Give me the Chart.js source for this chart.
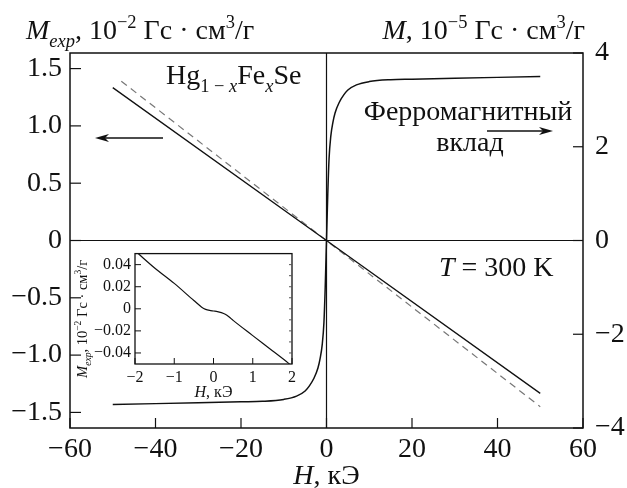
<!DOCTYPE html>
<html>
<head>
<meta charset="utf-8">
<script src="https://cdn.jsdelivr.net/npm/chart.js@4.4.1/dist/chart.umd.min.js"></script>
<style>
  body { margin: 0; background: #fff; }
  #wrap { position: relative; width: 627px; height: 488px; }
  #main { position: absolute; left: 0; top: 0; }
  #inset { position: absolute; left: 74px; top: 240px; }
</style>
</head>
<body>
<div id="wrap">
  <canvas id="main" width="627" height="488"></canvas>
  <canvas id="inset" width="226" height="165"></canvas>
</div>
<script>
// main panel: field H (kOe)
const xTicks = [-60, -40, -20, 0, 20, 40, 60];
const leftTicks = [-1.5, -1.0, -0.5, 0, 0.5, 1.0, 1.5];
const rightTicks = [-4, -2, 0, 2, 4];

// measured M_exp (left axis, 10^-2)
const mExpH = [-50, 0, 50];
const mExpV = [1.334, 0, -1.334];
// dashed diamagnetic line (left axis)
const diaH = [-48, 50];
const diaV = [1.39, -1.45];
// ferromagnetic contribution (right axis, 10^-5)
const ferroH = [-50, -40, -30, -20, -15, -10, -7, -5, -4, -3, -2, -1.5, -1, -0.6, -0.3, 0,
                0.3, 0.6, 1, 1.5, 2, 3, 4, 5, 7, 10, 15, 20, 30, 40, 50];
const ferroM = [-3.50, -3.48, -3.46, -3.44, -3.43, -3.39, -3.32, -3.21, -3.10, -2.95, -2.72, -2.52, -2.22, -1.75, -1.0, 0,
                1.0, 1.75, 2.22, 2.52, 2.72, 2.95, 3.10, 3.21, 3.32, 3.39, 3.43, 3.44, 3.46, 3.48, 3.50];

// inset: low field M_exp
const insetXTicks = [-2, -1, 0, 1, 2];
const insetYTicks = [-0.04, -0.02, 0, 0.02, 0.04];
const insetH = [-1.95, -1.5, -1.0, -0.5, -0.3, -0.2, -0.1, 0, 0.1, 0.2, 0.3, 0.4, 0.5, 1.0, 1.5, 1.9, 2.0];
const insetM = [0.051, 0.037, 0.023, 0.0075, 0.0015, -0.0005, -0.0015, -0.002, -0.0025, -0.0035, -0.005, -0.0075, -0.0105, -0.0243, -0.038, -0.049, -0.052];

const FONT = "'Liberation Serif', 'Times New Roman', serif";
const INK = '#111';
const fmt = (v, d) => v === 0 ? '0' : (v < 0 ? '\u2212' : '') + Math.abs(v).toFixed(d);
const pts = (xs, ys) => xs.map((x, i) => ({ x, y: ys[i] }));

function line(ctx, x1, y1, x2, y2) {
  ctx.beginPath(); ctx.moveTo(x1, y1); ctx.lineTo(x2, y2); ctx.stroke();
}

// text with italic / sub / superscript pieces
function rich(ctx, parts, x, y, align, size) {
  const items = parts.map(([t, st = '']) => {
    const small = st.includes('sub') || st.includes('sup');
    const sz = small ? size * 0.66 : size;
    const font = (st.startsWith('i') ? 'italic ' : '') + sz + 'px ' + FONT;
    ctx.font = font;
    const dy = st.includes('sub') ? size * 0.28 : st.includes('sup') ? -size * 0.4 : 0;
    return { t, font, dy, w: ctx.measureText(t).width };
  });
  const total = items.reduce((s, it) => s + it.w, 0);
  let cx = align === 'right' ? x - total : align === 'center' ? x - total / 2 : x;
  ctx.textAlign = 'left';
  ctx.textBaseline = 'alphabetic';
  items.forEach(it => { ctx.font = it.font; ctx.fillText(it.t, cx, y + it.dy); cx += it.w; });
}

function arrow(ctx, x1, y, x2) {
  const dir = Math.sign(x2 - x1);
  line(ctx, x1, y, x2 - dir * 8, y);
  ctx.beginPath();
  ctx.moveTo(x2, y);
  ctx.lineTo(x2 - dir * 14, y - 4);
  ctx.lineTo(x2 - dir * 10, y);
  ctx.lineTo(x2 - dir * 14, y + 4);
  ctx.closePath(); ctx.fill();
}

const mainFrame = {
  id: 'mainFrame',
  afterDatasetsDraw(chart) {
    const { ctx, chartArea: a, scales: { x, yL, yR } } = chart;
    ctx.save();
    ctx.strokeStyle = INK; ctx.fillStyle = INK;
    ctx.lineWidth = 1.5;
    ctx.strokeRect(a.left, a.top, a.width, a.height);
    ctx.lineWidth = 1.2;
    const x0 = x.getPixelForValue(0), y0 = yL.getPixelForValue(0);
    line(ctx, x0, a.top, x0, a.bottom);
    line(ctx, a.left, y0, a.right, y0);
    xTicks.forEach(v => { const p = x.getPixelForValue(v); line(ctx, p, a.bottom, p, a.bottom - 10); });
    leftTicks.forEach(v => { const p = yL.getPixelForValue(v); line(ctx, a.left, p, a.left + 11, p); });
    rightTicks.forEach(v => { const p = yR.getPixelForValue(v); line(ctx, a.right, p, a.right - 10, p); });

    // axis titles
    rich(ctx, [['M', 'i'], ['exp', 'isub'], [', 10'], ['\u22122', 'sup'], [' Гс · см'], ['3', 'sup'], ['/г']], 26, 39, 'left', 28);
    rich(ctx, [['M', 'i'], [', 10'], ['\u22125', 'sup'], [' Гс · см'], ['3', 'sup'], ['/г']], 585, 39, 'right', 28);
    rich(ctx, [['H', 'i'], [', кЭ']], x0, 484, 'center', 28);

    // labels inside the plot
    rich(ctx, [['Hg'], ['1 \u2212 ', 'sub'], ['x', 'isub'], ['Fe'], ['x', 'isub'], ['Se']], 166, 84, 'left', 28);
    rich(ctx, [['Ферромагнитный']], 468, 120, 'center', 28);
    rich(ctx, [['вклад']], 470, 151, 'center', 28);
    rich(ctx, [['T', 'i'], [' = 300 K']], 439, 276, 'left', 28);
    ctx.lineWidth = 1.5;
    arrow(ctx, 163, 138, 95);
    arrow(ctx, 487, 131, 553);
    ctx.restore();
  }
};

const axisFont = { family: FONT, size: 28 };

new Chart(document.getElementById('main'), {
  type: 'scatter',
  data: {
    datasets: [
      { data: pts(mExpH, mExpV), yAxisID: 'yL', showLine: true, borderColor: INK, borderWidth: 1.3, pointRadius: 0 },
      { data: pts(diaH, diaV), yAxisID: 'yL', showLine: true, borderColor: '#777', borderWidth: 1.2, borderDash: [7, 5], pointRadius: 0 },
      { data: pts(ferroH, ferroM), yAxisID: 'yR', showLine: true, borderColor: INK, borderWidth: 1.5, pointRadius: 0,
        cubicInterpolationMode: 'monotone' }
    ]
  },
  options: {
    responsive: false,
    animation: false,
    layout: { padding: { top: 53 } },
    plugins: { legend: { display: false }, tooltip: { enabled: false } },
    scales: {
      x: {
        type: 'linear', min: -60, max: 60,
        afterBuildTicks: s => { s.ticks = xTicks.map(v => ({ value: v })); },
        afterFit: s => { s.height = 60; },
        ticks: { callback: v => fmt(v, 0), font: axisFont, color: INK, padding: 5, maxRotation: 0, autoSkip: false },
        grid: { display: false, drawTicks: false }, border: { display: false }
      },
      yL: {
        type: 'linear', position: 'left', min: -1.636, max: 1.636,
        afterBuildTicks: s => { s.ticks = leftTicks.map(v => ({ value: v })); },
        afterFit: s => { s.width = 70; },
        ticks: { callback: v => fmt(v, 1), font: axisFont, color: INK, padding: 8, autoSkip: false },
        grid: { display: false, drawTicks: false }, border: { display: false }
      },
      yR: {
        type: 'linear', position: 'right', min: -4, max: 4,
        afterBuildTicks: s => { s.ticks = rightTicks.map(v => ({ value: v })); },
        afterFit: s => { s.width = 44; },
        ticks: { callback: v => fmt(v, 0), font: axisFont, color: INK, padding: 12, autoSkip: false },
        grid: { display: false, drawTicks: false }, border: { display: false }
      }
    }
  },
  plugins: [mainFrame]
});

const insetFrame = {
  id: 'insetFrame',
  beforeDatasetsDraw(chart) {
    const { ctx, chartArea: a } = chart;
    ctx.save(); ctx.fillStyle = '#fff'; ctx.fillRect(a.left, a.top, a.width, a.height); ctx.restore();
  },
  afterDatasetsDraw(chart) {
    const { ctx, chartArea: a, scales: { x, y } } = chart;
    ctx.save();
    ctx.strokeStyle = INK; ctx.fillStyle = INK;
    ctx.lineWidth = 1.3;
    ctx.strokeRect(a.left, a.top, a.width, a.height);
    ctx.lineWidth = 1;
    insetXTicks.forEach(v => { const p = x.getPixelForValue(v); line(ctx, p, a.bottom, p, a.bottom - 6); });
    insetYTicks.forEach(v => { const p = y.getPixelForValue(v); line(ctx, a.left, p, a.left + 6, p); });
    ctx.strokeStyle = '#555';
    for (let k = -4; k <= 4; k++) { const p = y.getPixelForValue(k / 100); line(ctx, a.right, p, a.right - 3, p); }
    ctx.fillStyle = INK;
    rich(ctx, [['H', 'i'], [', кЭ']], x.getPixelForValue(0), 157, 'center', 16);
    ctx.translate(13, (a.top + a.bottom) / 2 + 10);
    ctx.rotate(-Math.PI / 2);
    rich(ctx, [['M', 'i'], ['exp', 'isub'], [', 10'], ['\u22122', 'sup'], [' Гс · см'], ['3', 'sup'], ['/г']], 0, 0, 'center', 14.5);
    ctx.restore();
  }
};

const insetFont = { family: FONT, size: 16 };

new Chart(document.getElementById('inset'), {
  type: 'scatter',
  data: {
    datasets: [
      { data: pts(insetH, insetM), showLine: true, borderColor: INK, borderWidth: 1.2, pointRadius: 0,
        cubicInterpolationMode: 'monotone' }
    ]
  },
  options: {
    responsive: false,
    animation: false,
    layout: { padding: { top: 8, right: 6 } },
    plugins: { legend: { display: false }, tooltip: { enabled: false } },
    scales: {
      x: {
        type: 'linear', min: -2, max: 2,
        afterBuildTicks: s => { s.ticks = insetXTicks.map(v => ({ value: v })); },
        afterFit: s => { s.height = 41; },
        ticks: { callback: v => fmt(v, 0), font: insetFont, color: INK, padding: 4, maxRotation: 0, autoSkip: false },
        grid: { display: false, drawTicks: false }, border: { display: false }
      },
      y: {
        type: 'linear', min: -0.05, max: 0.05,
        afterBuildTicks: s => { s.ticks = insetYTicks.map(v => ({ value: v })); },
        afterFit: s => { s.width = 61; },
        ticks: { callback: v => fmt(v, 2), font: insetFont, color: INK, padding: 4, autoSkip: false },
        grid: { display: false, drawTicks: false }, border: { display: false }
      }
    }
  },
  plugins: [insetFrame]
});
</script>
</body>
</html>
